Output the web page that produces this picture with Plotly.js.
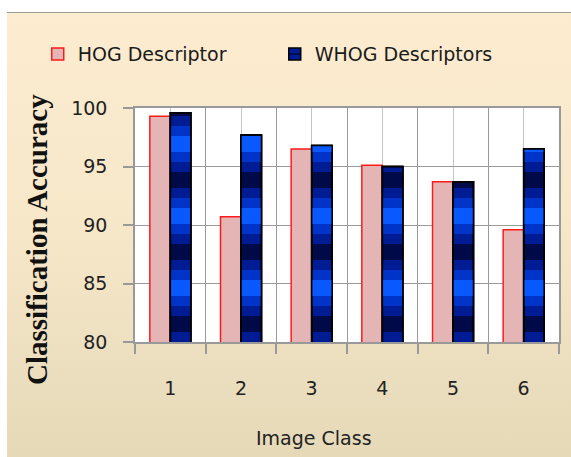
<!DOCTYPE html>
<html>
<head>
<meta charset="utf-8">
<script src="https://cdn.plot.ly/plotly-3.0.1.min.js"></script>
<style>
  html, body { margin: 0; padding: 0; background: #ffffff; }
  #chart {
    position: absolute; left: 7px; top: 12px;
    width: 564px; height: 444px;
    border-top: 1px solid #9a9a9a;
    background: linear-gradient(to bottom, #fdecd0 0%, #f7e8ca 45%, #e5d9b8 100%);
  }
</style>
</head>
<body>
<div id="chart"></div>
<script>
// ---- data ----
const classes = [1, 2, 3, 4, 5, 6];
const classLabels = ["1", "2", "3", "4", "5", "6"];
const hogAccuracy  = [99.3, 90.7, 96.5, 95.1, 93.7, 89.6];
const whogAccuracy = [99.6, 97.7, 96.8, 95.0, 93.7, 96.5];
const seriesNames = ["HOG Descriptor", "WHOG Descriptors"];
const yTitle = "Classification Accuracy";
const xTitle = "Image Class";

// shading bands used to imitate the cylinder-like gradient of the WHOG bars
const shadeBands = [
  { solidity: 0.5,  fg: "#0034c8" },
  { solidity: 0.22, fg: "#0a58ff" }
];

const traces = [
  {
    type: "bar", name: seriesNames[0], x: classes, y: hogAccuracy, offsetgroup: "hog",
    marker: { color: "#e5b5b5", line: { color: "#ff1a1a", width: 1.5 } },
    hoverinfo: "y"
  },
  {
    type: "bar", name: seriesNames[1], x: classes, y: whogAccuracy, offsetgroup: "whog",
    marker: {
      color: "#00105e",
      line: { color: "#000000", width: 1.5 },
      pattern: { shape: "-", size: 72, solidity: 0.78, fgcolor: "#001c94", bgcolor: "#000a48", fillmode: "replace" }
    },
    hoverinfo: "y"
  }
];
shadeBands.forEach(function (b) {
  traces.push({
    type: "bar", name: seriesNames[1], x: classes, y: whogAccuracy, offsetgroup: "whog",
    showlegend: false, hoverinfo: "skip",
    marker: {
      color: "rgba(0,0,0,0)",
      line: { color: "#000000", width: 1.5 },
      pattern: { shape: "-", size: 72, solidity: b.solidity, fgcolor: b.fg, bgcolor: "rgba(0,0,0,0)", fillmode: "replace" }
    }
  });
});

const layout = {
  width: 564, height: 444,
  margin: { l: 128, r: 12, t: 95, b: 115, pad: 0 },
  paper_bgcolor: "rgba(0,0,0,0)",
  plot_bgcolor: "#ffffff",
  font: { family: "DejaVu Sans, sans-serif", size: 19, color: "#222222" },
  barmode: "group", bargap: 0.42, bargroupgap: 0,
  showlegend: true,
  legend: {
    orientation: "h", x: -0.2294, xanchor: "left", y: 1.23, yanchor: "middle",
    bgcolor: "rgba(0,0,0,0)", font: { family: "DejaVu Sans, sans-serif", size: 19, color: "#1a1a1a" },
    entrywidth: 192, entrywidthmode: "pixels", traceorder: "normal"
  },
  xaxis: {
    range: [0.5, 6.5], tickmode: "array", tickvals: classes, ticktext: classLabels,
    ticks: "", showgrid: true, gridcolor: "#c4c4c4", gridwidth: 1,
    showline: true, linecolor: "#999999", linewidth: 1.5, mirror: true,
    zeroline: false, ticklabelstandoff: 28,
    minor: { tick0: 0.5, dtick: 1, ticks: "outside", ticklen: 10, tickcolor: "#999999", tickwidth: 1.5,
             showgrid: true, gridcolor: "#999999", gridwidth: 1.2 },
    title: { text: "" }
  },
  yaxis: {
    range: [80, 100], dtick: 5, tick0: 80,
    ticks: "outside", ticklen: 10, tickcolor: "#999999", tickwidth: 1.5,
    showgrid: true, gridcolor: "#999999", gridwidth: 1.2,
    showline: true, linecolor: "#999999", linewidth: 1.5, mirror: true,
    zeroline: false, ticklabelstandoff: 12,
    title: { text: "" }
  },
  annotations: [
    { text: xTitle, xref: "paper", yref: "paper", x: 0.422, y: -0.41, xanchor: "center", yanchor: "middle",
      showarrow: false, font: { family: "DejaVu Sans, sans-serif", size: 19, color: "#222" } },
    { text: "<b>" + yTitle + "</b>", xref: "paper", yref: "paper", x: -0.231, y: 0.436, textangle: -90,
      xanchor: "center", yanchor: "middle", showarrow: false,
      font: { family: "Liberation Serif, serif", size: 29, color: "#111" } }
  ]
};

Plotly.newPlot("chart", traces, layout, { displayModeBar: false });
</script>
</body>
</html>
